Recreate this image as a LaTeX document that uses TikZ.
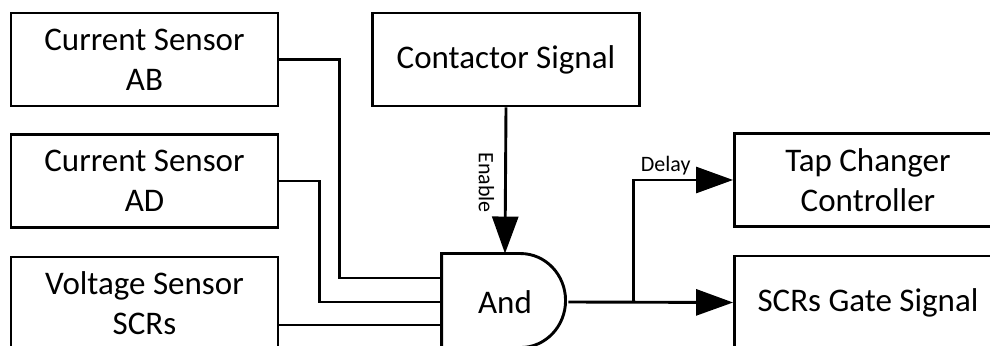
\documentclass[tikz,border=0pt]{standalone}
\usepackage{fontspec}
\setmainfont{Carlito}
\usepackage{tikz}
\usetikzlibrary{arrows.meta,positioning,calc}

\begin{document}
\begin{tikzpicture}[x=0.5pt,y=-0.5pt,line width=1.45pt,
  blk/.style={draw, minimum width=133.5pt, minimum height=46.5pt, inner sep=0pt,
    align=center, font=\fontsize{16.5}{20}\selectfont},
  arr/.style={-{Triangle[length=18.5pt,width=13pt]}},
  lbl/.style={font=\fontsize{11}{13}\selectfont, inner sep=1.5pt}]
\useasboundingbox (0,0) rectangle (990,346);
\clip (0,0) rectangle (990,346);
\node[blk] (ab) at (144.5,59.5) {Current Sensor\\AB};
\node[blk] (ad) at (144.5,181) {Current Sensor\\AD};
\node[blk] (vs) at (144.5,303.5) {Voltage Sensor\\SCRs};
\node[blk] (cs) at (506,59.5) {Contactor Signal};
\node[blk] (tc) at (868,180) {Tap Changer\\Controller};
\node[blk] (scr) at (868,302.5) {SCRs Gate Signal};
\node[minimum width=62pt, minimum height=47pt, inner sep=0pt,
  font=\fontsize{16.5}{20}\selectfont] (andg) at (505,302) {And};
\draw (andg.north west) -- ++(79,0)
  arc[start angle=-90, end angle=90, x radius=45, y radius=47]
  -- (andg.south west) -- cycle;
\coordinate (in1) at ($(andg.west)+(0,-24)$);
\coordinate (in3) at ($(andg.west)+(0,23)$);
\draw (ab.east) -- ++(60,0) |- (in1);
\draw (ad.east) -- ++(40,0) |- (andg.west);
\draw (in3 -| vs.east) -- (in3);
\draw[arr] (cs.south) -- (andg.north);
\node[lbl, rotate=-90] (en) at ($(cs.south)!0.5!(andg.north)+(-19,2)$) {Enable};
\coordinate (br) at ($(andg.east)+(65,0)$);
\draw[arr] (andg.east) -- (scr.west);
\draw[arr] (br) |- node[lbl, pos=0.5, anchor=south west, xshift=1.5pt] {Delay} (tc.west);
\end{tikzpicture}
\end{document}
